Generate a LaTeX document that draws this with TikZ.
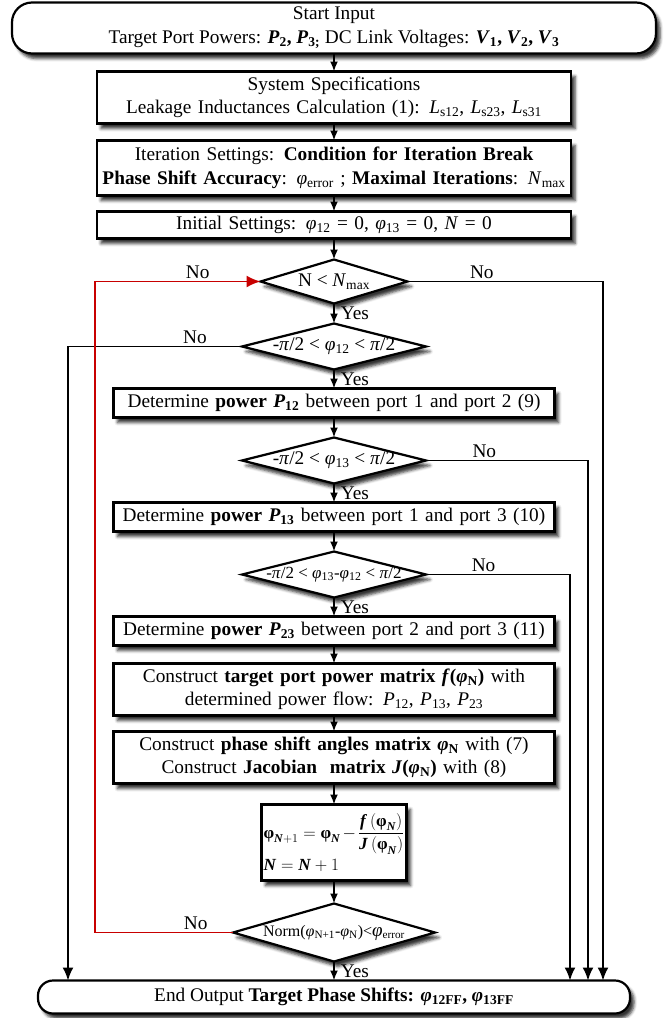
\documentclass[tikz,border=0pt]{standalone}
\usepackage{amsmath}
\usepackage{fontspec}
\setmainfont{Liberation Serif}
\usepackage{xcolor}
\usepackage{tikz}
\usetikzlibrary{arrows.meta,positioning,shapes.geometric,shadows.blur}
\definecolor{loopred}{RGB}{200,0,0}

\begin{document}
\begin{tikzpicture}[
  x=1pt, y=-1pt,
  font=\fontsize{19.3}{23}\selectfont,
  base/.style={draw, line width=2.2pt, fill=white, align=center, inner sep=0pt, outer sep=0pt,
    blur shadow={shadow xshift=4pt, shadow yshift=-5pt, shadow blur radius=3pt, shadow opacity=80}},
  term/.style={base, rounded corners=20pt},
  widebox/.style={base, text width=474pt},
  box/.style={base, text width=441pt},
  decision/.style={base, diamond},
  arrow/.style={-{Latex[length=10pt,width=8pt]}, line width=1.8pt},
  sidearrow/.style={arrow, -{Latex[length=13pt,width=11pt]}},
  redline/.style={arrow, -{Latex[length=14pt,width=12pt]}, draw=loopred},
  yes/.style={midway, right, inner sep=6pt},
  no/.style={above, inner sep=2pt},
]
\useasboundingbox (0,0) rectangle (666,1018);

\coordinate (colL) at (68,0);
\coordinate (colR) at (95,0);
\coordinate (colA) at (603,0);
\coordinate (colB) at (588,0);
\coordinate (colC) at (570,0);

\node[term, minimum width=644pt, minimum height=51pt] (start) at (334,28) {Start Input\\[1pt]Target Port Powers: \textbf{\textit{P}\textsubscript{2}, \textit{P}\textsubscript{3;}} DC Link Voltages: \textbf{\textit{V}\textsubscript{1}, \textit{V}\textsubscript{2}, \textit{V}\textsubscript{3}}};
\node[widebox, minimum height=52pt, below=18pt of start] (sys) {System Specifications\\Leakage Inductances Calculation (1): \textit{L}\textsubscript{s12}, \textit{L}\textsubscript{s23}, \textit{L}\textsubscript{s31}};
\node[widebox, minimum height=55pt, below=17pt of sys] (iter) {Iteration Settings: \textbf{Condition for Iteration Break}\\[1pt]\textbf{Phase Shift Accuracy}: \textit{φ}\textsubscript{error} ; \textbf{Maximal Iterations}: \textit{N}\textsubscript{max}};
\node[widebox, minimum height=27pt, below=16pt of iter] (init) {Initial Settings: \textit{φ}\textsubscript{12} = 0, \textit{φ}\textsubscript{13} = 0, \textit{N} = 0};
\node[decision, minimum width=147pt, minimum height=44pt, below=21pt of init, label={center:N < \textit{N}\textsubscript{max}}] (nmax) {};
\node[decision, minimum width=184pt, minimum height=46pt, below=20pt of nmax, label={center:-\textit{π}/2 < \textit{φ}\textsubscript{12} < \textit{π}/2}] (phi12) {};
\node[box, minimum height=29pt, below=19pt of phi12] (p12) {Determine \textbf{power \textit{P}\textsubscript{12}} between port 1 and port 2 (9)};
\node[decision, minimum width=184pt, minimum height=46pt, below=20pt of p12, label={center:-\textit{π}/2 < \textit{φ}\textsubscript{13} < \textit{π}/2}] (phi13) {};
\node[box, minimum height=29pt, below=19pt of phi13] (p13) {Determine \textbf{power \textit{P}\textsubscript{13}} between port 1 and port 3 (10)};
\node[decision, minimum width=184pt, minimum height=46pt, below=20pt of p13, label={[font=\fontsize{17}{19}\selectfont]center:-\textit{π}/2 < \textit{φ}\textsubscript{13}-\textit{φ}\textsubscript{12} < \textit{π}/2}] (phi23) {};
\node[box, minimum height=29pt, below=19pt of phi23] (p23) {Determine \textbf{power \textit{P}\textsubscript{23}} between port 2 and port 3 (11)};
\node[box, minimum height=52pt, below=18pt of p23] (target) {Construct \textbf{target port power matrix \textit{f}(\textit{φ}\textsubscript{N})} with\\determined power flow: \textit{P}\textsubscript{12}, \textit{P}\textsubscript{13}, \textit{P}\textsubscript{23}};
\node[box, minimum height=52pt, below=16pt of target] (phase) {Construct \textbf{phase shift angles matrix \textit{φ}\textsubscript{N}} with (7)\\Construct \textbf{Jacobian\ \ matrix \textit{J}(\textit{φ}\textsubscript{N})} with (8)};
\node[base, text width=141pt, minimum height=76pt, align=left, inner sep=2pt, font=\fontsize{17}{20}\selectfont, below=21pt of phase] (update) {$\textbf{φ}_{\textbf{\textit{N}}+1}=\textbf{φ}_{\textbf{\textit{N}}}-\dfrac{\textbf{\textit{f}}\left(\textbf{φ}_{\textbf{\textit{N}}}\right)}{\textbf{\textit{J}}\left(\textbf{φ}_{\textbf{\textit{N}}}\right)}$\\[4pt]$\textbf{\textit{N}}=\textbf{\textit{N}}+1$};
\node[decision, minimum width=202pt, minimum height=58pt, below=23pt of update, label={[font=\fontsize{16}{18}\selectfont]center:Norm(\textit{φ}\textsubscript{N+1}-\textit{φ}\textsubscript{N})<{\fontsize{19}{20}\selectfont\textit{φ}}\textsubscript{error}}] (norm) {};
\node[term, rounded corners=15pt, minimum width=592pt, minimum height=33pt, below=19pt of norm] (endn) {End Output \textbf{Target Phase Shifts: \textit{φ}\textsubscript{12FF}, \textit{φ}\textsubscript{13FF}}};

\draw[arrow] (start) -- (sys);
\draw[arrow] (sys) -- (iter);
\draw[arrow] (iter) -- (init);
\draw[arrow] (init) -- (nmax);
\draw[arrow] (nmax) -- node[yes]{Yes} (phi12);
\draw[arrow] (phi12) -- node[yes]{Yes} (p12);
\draw[arrow] (p12) -- (phi13);
\draw[arrow] (phi13) -- node[yes]{Yes} (p13);
\draw[arrow] (p13) -- (phi23);
\draw[arrow] (phi23) -- node[yes]{Yes} (p23);
\draw[arrow] (p23) -- (target);
\draw[arrow] (target) -- (phase);
\draw[arrow] (phase) -- (update);
\draw[arrow] (update) -- (norm);
\draw[arrow] (norm) -- node[yes]{Yes} (endn);

\draw[sidearrow] (nmax) -- node[no, pos=0.38]{No} (nmax.east -| colA) -- (colA |- endn.north);
\draw[sidearrow] (phi12) -- node[no, pos=0.27]{No} (phi12.west -| colL) -- (colL |- endn.north);
\draw[sidearrow] (phi13) -- node[no, pos=0.36]{No} (phi13.east -| colB) -- (colB |- endn.north);
\draw[sidearrow] (phi23) -- node[no, pos=0.4]{No} (phi23.east -| colC) -- (colC |- endn.north);
\draw[redline] (norm) -- node[no, pos=0.27]{No} (norm.west -| colR) -- (colR |- nmax.west) -- node[no, pos=0.62]{No} (nmax);

\end{tikzpicture}
\end{document}
